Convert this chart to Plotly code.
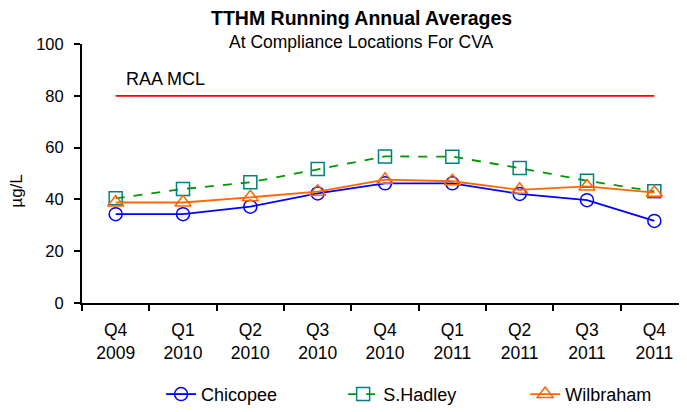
import plotly.graph_objects as go

categories = ["Q4<br>2009", "Q1<br>2010", "Q2<br>2010", "Q3<br>2010", "Q4<br>2010",
              "Q1<br>2011", "Q2<br>2011", "Q3<br>2011", "Q4<br>2011"]
chicopee = [34.3, 34.3, 37.2, 42.3, 46.2, 46.2, 42.1, 39.7, 31.7]
shadley = [40.4, 44.0, 46.6, 51.7, 56.6, 56.5, 52.1, 47.2, 43.1]
wilbraham = [38.8, 38.8, 40.8, 43.0, 47.6, 47.0, 43.7, 45.0, 42.6]
mcl = [80] * len(categories)

FONT = "Liberation Sans, Arial, sans-serif"
TOP, BOTTOM, LEFT, RIGHT = 36, 112, 74, 7
PLOT_H = 412 - TOP - BOTTOM
LEG_Y = -BOTTOM / PLOT_H

fig = go.Figure()
fig.add_trace(go.Scatter(x=categories, y=mcl, mode="lines", showlegend=False,
                         line=dict(color="#FF0000", width=1.8), hoverinfo="skip"))
fig.add_trace(go.Scatter(x=categories, y=chicopee, name="Chicopee", mode="lines+markers",
                         legend="legend",
                         line=dict(color="#0000FF", width=1.8),
                         marker=dict(symbol="circle-open", size=13, color="#0000FF",
                                     line=dict(width=1.5))))
fig.add_trace(go.Scatter(x=categories, y=shadley, name="S.Hadley", mode="lines+markers",
                         legend="legend2",
                         line=dict(color="#009900", width=1.8, dash="dash"),
                         marker=dict(symbol="square-open", size=13, color="#008080",
                                     line=dict(width=1.5))))
fig.add_trace(go.Scatter(x=categories, y=wilbraham, name="Wilbraham", mode="lines+markers",
                         legend="legend3",
                         line=dict(color="#FF6600", width=1.8),
                         marker=dict(symbol="triangle-up-open", size=14, color="#FF6600",
                                     line=dict(width=1.5))))

fig.add_annotation(x=0, y=80, xref="x", yref="y", text="RAA MCL", showarrow=False,
                   xanchor="left", yanchor="bottom", xshift=8, yshift=5,
                   font=dict(family=FONT, size=18, color="#000"))

fig.add_annotation(x=0.462, y=1, xref="paper", yref="paper", yshift=26, yanchor="middle",
                   xanchor="center", text="<b>TTHM Running Annual Averages</b>", showarrow=False,
                   font=dict(family=FONT, size=19.5, color="#000"))
fig.add_annotation(x=0.462, y=1, xref="paper", yref="paper", yshift=2, yanchor="middle",
                   xanchor="center", text="At Compliance Locations For CVA", showarrow=False,
                   font=dict(family=FONT, size=17.5, color="#000"))

# y-axis title placed as rotated annotation
fig.add_annotation(x=0, y=0.43, xref="paper", yref="paper", xanchor="center", yanchor="middle",
                   xshift=-65, textangle=-90, text="µg/L", showarrow=False,
                   font=dict(family=FONT, size=17, color="#000"))

leg_common = dict(orientation="h", xanchor="left", y=LEG_Y, yanchor="bottom",
                  font=dict(family=FONT, size=18), bgcolor="rgba(0,0,0,0)")

fig.update_layout(
    width=687, height=412,
    margin=dict(l=LEFT, r=RIGHT, t=TOP, b=BOTTOM),
    paper_bgcolor="white", plot_bgcolor="white",
    font=dict(family=FONT, size=16, color="#000"),
    showlegend=True,
    legend=dict(x=0.1305, **leg_common),
    legend2=dict(x=0.4309, **leg_common),
    legend3=dict(x=0.7313, **leg_common),
    xaxis=dict(showline=True, linecolor="#000", linewidth=2, showgrid=False,
               ticks="outside", ticklen=6, tickwidth=1.5, tickcolor="#000",
               tickson="boundaries", range=[-0.5, 8.5], automargin=False,
               ticklabelstandoff=10, tickfont=dict(family=FONT, size=17.5)),
    yaxis=dict(showline=True, linecolor="#000", linewidth=2, showgrid=False, zeroline=False,
               range=[0, 100], dtick=20, ticks="outside", ticklen=6, tickwidth=1.5,
               tickcolor="#000", tickfont=dict(family=FONT, size=16.5), automargin=False,
               ticklabelstandoff=7),
)

fig.write_html("out.html")
